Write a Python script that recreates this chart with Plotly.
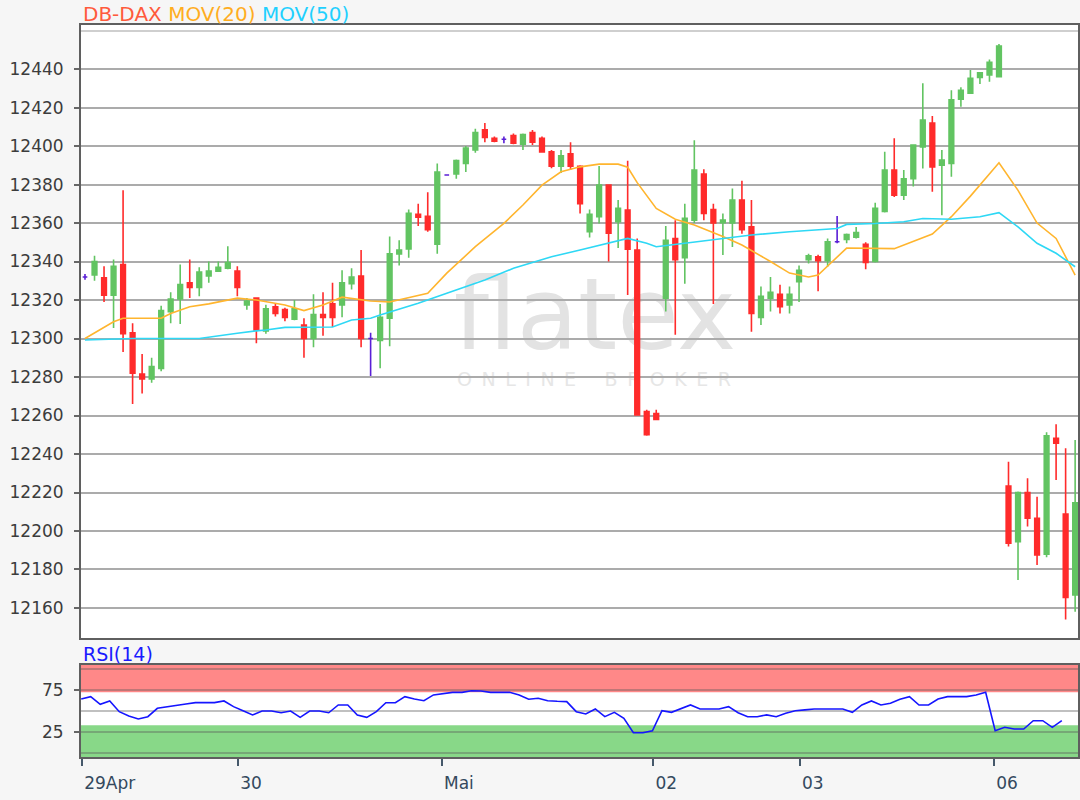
import plotly.graph_objects as go

# ---------------- data ----------------
# candle index 0..104 ; open, high, low, close
opens = [12332, 12333, 12331.5, 12322.5, 12338.5, 12303, 12281.5, 12279, 12284.5, 12314,
         12320.5, 12329, 12326.5, 12332.5, 12335, 12336.5, 12335, 12317.5, 12321, 12304,
         12316.5, 12315, 12310, 12307, 12300, 12312.5, 12318, 12317.5, 12328.5, 12332.5,
         12300, 12299, 12310.5, 12344, 12346.5, 12364.5, 12363.5, 12349, 12385, 12385.5,
         12391, 12398, 12408.5, 12404, 12403.5, 12405.5, 12401, 12407, 12404, 12397,
         12389.5, 12396, 12389.5, 12355.5, 12363.3, 12379.7, 12360.7, 12366.8, 12346, 12262,
         12261, 12321, 12352, 12342, 12361.5, 12385.5, 12367, 12360.2, 12360, 12372,
         12358, 12311, 12321, 12323, 12317.5, 12329.5, 12341, 12342.5, 12340.5, 12350.3,
         12351.5, 12352.6, 12349, 12340, 12366, 12387.5, 12374.5, 12383, 12399.6, 12412,
         12390, 12391, 12424.3, 12427.4, 12435.7, 12437, 12436, 12223.4, 12194.5, 12220,
         12206.6, 12188, 12248.2, 12208.8, 12166.8]
highs = [12333.5, 12343, 12337.5, 12341, 12377, 12308, 12292, 12290, 12317, 12324,
         12338.5, 12341, 12337, 12340, 12340, 12348, 12337.5, 12321, 12321.5, 12317.5,
         12318, 12316, 12320, 12310.5, 12323, 12324, 12329, 12335.5, 12336.5, 12346,
         12303, 12318, 12353, 12351, 12367, 12370, 12376, 12391, 12385.3, 12393,
         12400, 12409, 12412, 12405, 12405, 12406.5, 12406.5, 12408.3, 12405, 12398,
         12398, 12402, 12390, 12367, 12389.6, 12380, 12372, 12392.4, 12352, 12263,
         12263, 12358.5, 12361.5, 12370, 12403, 12388, 12370, 12365, 12378, 12382,
         12372, 12327, 12332, 12328, 12327, 12338, 12344, 12343.5, 12352, 12363.6,
         12354.6, 12358, 12350, 12370.5, 12397, 12404, 12387.5, 12401, 12432.6, 12415.6,
         12398, 12429, 12430.5, 12439.5, 12438.3, 12445, 12453, 12236, 12220.5, 12227.4,
         12217.8, 12251.3, 12255.5, 12243, 12247.3]
lows = [12330.5, 12330, 12319, 12305.5, 12293, 12266, 12271.5, 12277, 12283, 12308,
        12307.5, 12321, 12322, 12329, 12334.5, 12336, 12322, 12315, 12297.5, 12302.5,
        12311.5, 12309, 12309.5, 12290, 12295.5, 12301.5, 12306, 12311, 12325.5, 12295.5,
        12280.5, 12284.5, 12296, 12338, 12342, 12358.5, 12355.5, 12344, 12384.7, 12383,
        12386.5, 12396.5, 12402, 12402, 12401.5, 12401, 12398, 12400.5, 12396.5, 12388.5,
        12386, 12387.5, 12365, 12352.5, 12359.8, 12340, 12347, 12322.6, 12260, 12249.5,
        12257.5, 12314, 12302, 12328.5, 12360, 12361.5, 12318, 12343.4, 12347.5, 12354.5,
        12303.5, 12307, 12314, 12313, 12313, 12319, 12339, 12324.5, 12337.3, 12349.5,
        12349.5, 12352, 12336, 12339.5, 12365.5, 12373.5, 12372, 12379, 12388.4, 12376.3,
        12364, 12384, 12420.4, 12427, 12432.2, 12433.4, 12435.7, 12192, 12174.5, 12202.3,
        12182.3, 12186.3, 12226.5, 12154, 12158]
closes = [12332, 12340, 12322.5, 12337.5, 12302.5, 12282, 12279, 12285.5, 12314.5, 12320.5,
          12328, 12326.5, 12334.5, 12335, 12337, 12339.5, 12326.5, 12319.5, 12304.5, 12315.5,
          12313, 12311, 12315.5, 12300, 12312.5, 12311, 12311, 12329, 12332, 12300,
          12300, 12311, 12344, 12346, 12365, 12363, 12356.5, 12386.5, 12385, 12392.5,
          12399, 12407, 12404.5, 12402.5, 12403.5, 12401.5, 12406, 12402, 12397, 12389.5,
          12395, 12389.5, 12370, 12364.5, 12379.7, 12354.7, 12367.6, 12346.4, 12260.3, 12250,
          12258, 12351, 12341, 12362.5, 12387.5, 12365, 12360, 12361.6, 12372, 12356.5,
          12313, 12322, 12324, 12316.5, 12323, 12335.5, 12343, 12340.5, 12350.3, 12350.3,
          12354, 12355, 12339.5, 12367.6, 12387.5, 12374.5, 12383, 12400.5, 12413.5, 12389.2,
          12392.7, 12424, 12429, 12435.2, 12438, 12443.5, 12452, 12193.6, 12220, 12206.6,
          12187.5, 12249.4, 12245.6, 12165.5, 12214.7]

# moving averages, read at selected candle indices
ma20_idx = [0, 3, 4, 8, 9, 11, 13, 16, 18, 21, 23, 25, 27, 29, 30, 32, 36, 38, 41, 44,
            46, 48, 50, 52, 54, 56, 57, 58, 60, 62, 64, 67, 69, 72, 74, 76, 77, 80, 85, 89,
            91, 93, 96, 98, 100, 102, 104]
ma20_val = [12300, 12308.7, 12310.5, 12310.5, 12313, 12316.5, 12318, 12321, 12320, 12317.4,
            12314.5, 12317.4, 12321.5, 12320, 12319.5, 12319, 12323.5, 12334, 12347.7, 12359.8,
            12369.4, 12379.7, 12386.6, 12389.2, 12390.6, 12390.6, 12389, 12381, 12367.6, 12362,
            12359, 12353, 12348.6, 12340, 12334, 12332, 12333, 12347, 12346.7, 12354.3,
            12363.3, 12374, 12391.3, 12377, 12360, 12352, 12333]
ma50_idx = [0, 5, 12, 15, 16, 18, 19, 21, 26, 28, 30, 31, 35, 38, 42, 45, 49, 52, 55, 57,
            59, 60, 63, 66, 70, 74, 79, 80, 83, 86, 88, 91, 94, 96, 98, 100, 102, 104]
ma50_val = [12299.2, 12300, 12300, 12301.8, 12302.7, 12304, 12304.4, 12305.8, 12306, 12309.6,
            12310.5, 12312.2, 12318.3, 12323.5, 12330.4, 12336.5, 12342.5, 12346, 12349.5, 12352,
            12349.5, 12347.7, 12349.5, 12351.2, 12353.8, 12355.5, 12357.2, 12359.3, 12359.8, 12360.7,
            12362.4, 12362, 12363.3, 12365.4, 12358, 12349.5, 12344.3, 12337.3]

# RSI(14) per candle
rsi = [64.3, 67.2, 58.0, 62.0, 49.2, 44.0, 40.4, 43.2, 53.2, 55.2,
       57.2, 58.4, 60.0, 60.0, 60.0, 62.0, 55.2, 50.3, 45.3, 50.0,
       50.0, 47.9, 50.0, 42.4, 50.0, 50.0, 47.9, 57.2, 57.2, 45.3,
       42.4, 49.2, 59.9, 59.9, 67.2, 64.3, 62.3, 69.2, 70.3, 72.3,
       72.3, 74.3, 73.9, 72.3, 72.3, 72.3, 69.2, 64.0, 65.2, 62.3,
       61.6, 61.2, 49.2, 46.4, 52.4, 43.2, 48.4, 41.3, 24.0, 24.0,
       26.4, 50.3, 48.4, 53.2, 57.2, 52.4, 52.4, 52.4, 55.2, 47.9,
       43.2, 43.2, 45.3, 43.2, 47.2, 50.3, 51.4, 52.4, 52.4, 52.4,
       52.4, 48.4, 57.2, 62.0, 57.2, 59.3, 64.0, 67.2, 57.2, 57.2,
       64.3, 67.2, 67.2, 67.2, 69.2, 72.3, 26.4, 30.5, 28.4, 28.4,
       38.4, 38.4, 30.5, 38.4]
RSI_SHIFT = -0.4

tick_pos = [-0.3, 16.1, 37.5, 59.7, 75.1, 95.5]
tick_txt = ["29Apr", "30", "Mai", "02", "03", "06"]
price_ticks = list(range(12160, 12441, 20))

# ---------------- styling ----------------
GREEN = "#62c462"
RED = "#ff2b2b"
PURPLE = "#5a1fd6"
FONT = "DejaVu Sans"

idx = list(range(len(opens)))
reg = [i for i in idx if opens[i] != closes[i]]
doj = [i for i in idx if opens[i] == closes[i]]

fig = go.Figure()

fig.add_trace(go.Candlestick(
    x=reg, open=[opens[i] for i in reg], high=[highs[i] for i in reg],
    low=[lows[i] for i in reg], close=[closes[i] for i in reg],
    increasing=dict(line=dict(color=GREEN, width=1.6), fillcolor=GREEN),
    decreasing=dict(line=dict(color=RED, width=1.6), fillcolor=RED),
    xaxis="x", yaxis="y", showlegend=False, hoverinfo="skip"))
fig.add_trace(go.Candlestick(
    x=doj, open=[opens[i] for i in doj], high=[highs[i] for i in doj],
    low=[lows[i] for i in doj], close=[closes[i] for i in doj],
    increasing=dict(line=dict(color=PURPLE, width=1.6), fillcolor=PURPLE),
    decreasing=dict(line=dict(color=PURPLE, width=1.6), fillcolor=PURPLE),
    xaxis="x", yaxis="y", showlegend=False, hoverinfo="skip"))

fig.add_trace(go.Scatter(x=ma20_idx, y=ma20_val, mode="lines",
                         line=dict(color="#ffb52e", width=1.6),
                         xaxis="x", yaxis="y", showlegend=False, hoverinfo="skip"))
fig.add_trace(go.Scatter(x=ma50_idx, y=ma50_val, mode="lines",
                         line=dict(color="#2ed8f5", width=1.6),
                         xaxis="x", yaxis="y", showlegend=False, hoverinfo="skip"))

fig.add_trace(go.Scatter(x=[k + RSI_SHIFT for k in range(len(rsi))], y=rsi, mode="lines",
                         line=dict(color="#1515ff", width=1.6),
                         xaxis="x2", yaxis="y2", showlegend=False, hoverinfo="skip"))

# geometry (pixel-matched)
W, H = 1080, 800
ML, MR, MT, MB = 81, 2, 25, 43
ph = H - MT - MB
main_bottom = (757 - 638) / ph
rsi_top = (757 - 665) / ph

frame = dict(showline=True, linecolor="#5f5f5f", linewidth=2, mirror=True, automargin=False)

fig.update_layout(
    template="none",
    width=W, height=H,
    margin=dict(l=ML, r=MR, t=MT, b=MB, autoexpand=False),
    paper_bgcolor="#f6f6f6", plot_bgcolor="#ffffff",
    font=dict(family=FONT, size=17, color="#444444"),
    xaxis=dict(domain=[0, 1], anchor="y", range=[-0.42, 104.3],
               showgrid=False, showticklabels=False, ticks="", zeroline=False,
               rangeslider=dict(visible=False), fixedrange=True, **frame),
    yaxis=dict(domain=[main_bottom, 1], anchor="x", range=[12144.4, 12462.9],
               tickmode="array", tickvals=price_ticks, tickformat="d",
               ticks="outside", ticklen=5, tickcolor="#666666", tickwidth=1.5,
               ticklabelstandoff=7,
               showgrid=True, gridcolor="#ababab", gridwidth=2, zeroline=False,
               tickfont=dict(family=FONT, size=17, color="#3c3c3c"),
               minor=dict(tickmode="array", tickvals=[12460], showgrid=True,
                          gridcolor="#cfcfcf", gridwidth=2, ticks=""),
               **frame),
    xaxis2=dict(domain=[0, 1], anchor="y2", matches="x", range=[-0.42, 104.3],
                tickmode="array", tickvals=tick_pos, ticktext=tick_txt,
                ticks="outside", ticklen=7, tickwidth=2, tickcolor="#46596b",
                ticklabelposition="outside right", ticklabelstandoff=10,
                tickfont=dict(family=FONT, size=17, color="#34495e"),
                showgrid=False, zeroline=False, **frame),
    yaxis2=dict(domain=[0, rsi_top], anchor="x2", range=[-5, 105],
                tickmode="array", tickvals=[25, 75],
                ticks="outside", ticklen=5, tickcolor="#666666", tickwidth=1.5,
                ticklabelstandoff=7,
                showgrid=True, gridcolor="rgba(90,90,90,0.38)", gridwidth=2, zeroline=False,
                tickfont=dict(family=FONT, size=17, color="#3c3c3c"),
                minor=dict(tickmode="array", tickvals=[0, 50, 100], showgrid=True,
                           gridcolor="rgba(90,90,90,0.38)", gridwidth=2, ticks=""),
                **frame),
    showlegend=False,
)

# RSI zones
fig.add_shape(type="rect", xref="x2 domain", yref="y2", x0=0, x1=1, y0=72.5, y1=105,
              fillcolor="#ff8888", line=dict(width=0), layer="below")
fig.add_shape(type="rect", xref="x2 domain", yref="y2", x0=0, x1=1, y0=-5, y1=33,
              fillcolor="#88d888", line=dict(width=0), layer="below")

# watermark (behind the candles)
def py(pix):
    return (757 - pix) / ph

def px(pix):
    return (pix - ML) / (W - ML - MR)

SP = "\u2002"
fig.add_shape(type="rect", xref="paper", yref="paper",
              x0=px(430), x1=px(760), y0=py(350), y1=py(265),
              line=dict(width=0), fillcolor="rgba(0,0,0,0)", layer="below",
              label=dict(text="flatex", textposition="middle center",
                         font=dict(family=FONT, size=100, color="#e3e3e3")))
fig.add_shape(type="rect", xref="paper", yref="paper",
              x0=px(434), x1=px(754), y0=py(392), y1=py(364),
              line=dict(width=0), fillcolor="rgba(0,0,0,0)", layer="below",
              label=dict(text=SP.join("ONLINE") + SP * 3 + SP.join("BROKER"),
                         textposition="middle center",
                         font=dict(family=FONT, size=19, color="#e6e6e6")))

# titles
fig.add_annotation(xref="paper", yref="paper", x=px(81), y=py(14), xanchor="left",
                   yanchor="middle", showarrow=False,
                   text='<span style="color:#ff5a3c">DB-DAX</span> '
                        '<span style="color:#ffad1f">MOV(20)</span> '
                        '<span style="color:#1fd0ff">MOV(50)</span>',
                   font=dict(family=FONT, size=20))
fig.add_annotation(xref="paper", yref="paper", x=px(81), y=py(654), xanchor="left",
                   yanchor="middle", showarrow=False, text="RSI(14)",
                   font=dict(family=FONT, size=19, color="#1a1aff"))

fig.write_html("out.html", config={"displayModeBar": False},
               post_script="document.body.style.margin='0';"
                           "document.body.style.background='#f6f6f6';")
